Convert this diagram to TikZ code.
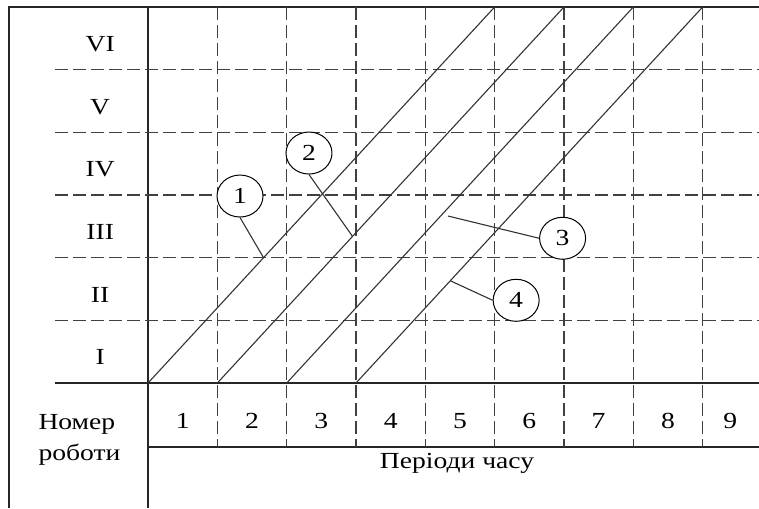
\documentclass[tikz,border=0pt]{standalone}
\usepackage{fontspec}
\setmainfont{Liberation Serif}[FakeStretch=1.2]
\usetikzlibrary{shapes.geometric,calc}

\begin{document}
\begin{tikzpicture}[x=69.33pt, y=62.67pt, font=\fontsize{23}{27}\selectfont,
		frameline/.style={line width=1.4pt, black!85},
		dashline/.style={line width=1.2pt, black!75, dash pattern=on 13pt off 5pt},
		diagline/.style={line width=1.1pt, black!80},
		leaderline/.style={line width=1.1pt, black!80},
		numoval/.style={ellipse, draw, fill=white, line width=1pt, minimum width=46pt, minimum height=42pt, inner sep=0pt}]
		\useasboundingbox (-2.135,-1.995) rectangle (8.813,6.112);
		
		% Frame
		\draw[frameline] (8.813,6) -- (-2.005,6) -- (-2.005,-1.995);
		\draw[frameline] (0,6) -- (0,-1.995);
		\draw[frameline] (-1.341,0) -- (8.813,0);
		\draw[frameline] (0,-1.02) -- (8.813,-1.02);
		
		% Grid
		\foreach \r in {1,...,5}
			\draw[dashline] (-1.341,\r) -- (8.813,\r);
		\foreach \c in {1,...,8}
			\draw[dashline] (\c,6) -- (\c,-1.02);
		
		% Robot numbers
		\foreach \r/\rn in {0/I,1/II,2/III,3/IV,4/V,5/VI}
			\node[anchor=base] (rob\r) at (-0.69,\r+0.29) {\rn};
		\node[anchor=base west] (nomer) at (-1.63,-0.74) {Номер};
		\node[anchor=base west] (roboty) at (-1.63,-1.229) {роботи};
		
		% Time periods
		\foreach \c in {1,...,8}
			\node[anchor=base] (per\c) at (\c-0.5,-0.718) {\c};
		\node[anchor=base] (per9) at (8.4,-0.718) {9};
		\node[anchor=base] (periody) at (4.457,-1.356) {Періоди часу};
		
		% Work lines
		\foreach \k in {0,...,3} {
			\coordinate (s\k) at (\k,0);
			\coordinate (e\k) at (\k+5,6);
			\draw[diagline] (s\k) -- (e\k);
		}
		\coordinate (p1) at ($(s0)!1/3!(e0)$);
		\coordinate (p2) at ($(s1)!0.39!(e1)$);
		\coordinate (p3) at (4.327,2.665);
		\coordinate (p4) at ($(s3)!0.272!(e3)$);
		
		% Callouts
		\node[numoval] (o1) at (1.327,2.984) {1};
		\node[numoval] (o2) at (2.322,3.67) {2};
		\node[numoval] (o3) at (5.98,2.31) {3};
		\node[numoval] (o4) at (5.31,1.32) {4};
		\draw[leaderline] (o1.south) -- (p1);
		\draw[leaderline] (o2.south) -- (p2);
		\draw[leaderline] (o3.west) -- (p3);
		\draw[leaderline] (o4.west) -- (p4);
	\end{tikzpicture}
\end{document}
